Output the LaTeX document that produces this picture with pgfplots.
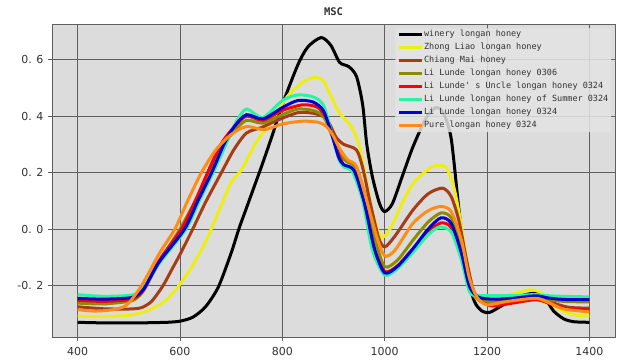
\documentclass[border=0pt]{standalone}
\usepackage{fontspec}
\setmainfont{DejaVu Sans}
\newfontfamily\legfont{DejaVu Sans Mono}
\usepackage{pgfplots}
\pgfplotsset{compat=1.18}

\definecolor{bgc}{RGB}{220,220,220}
\definecolor{gridc}{RGB}{95,95,95}
\definecolor{txtc}{RGB}{50,50,50}
\definecolor{cyellow}{RGB}{238,238,20}
\definecolor{cbrown}{RGB}{165,60,20}
\definecolor{colive}{RGB}{140,140,0}
\definecolor{cred}{RGB}{250,0,0}
\definecolor{cspring}{RGB}{40,245,160}
\definecolor{cblue}{RGB}{0,0,210}
\definecolor{corange}{RGB}{255,140,20}
\definecolor{legbg}{RGB}{228,228,228}

\begin{document}
\begin{tikzpicture}
\begin{axis}[
  scale only axis,
  width=563pt, height=313pt,
  xmin=350, xmax=1450, ymin=-0.382, ymax=0.726,
  axis background/.style={fill=bgc},
  grid=major,
  grid style={gridc, line width=0.8pt},
  axis line style={gridc, line width=0.7pt},
  tick style={gridc, line width=0.8pt},
  tick align=outside, major tick length=4pt,
  xtick pos=lower, ytick pos=left,
  xtick={400,600,800,1000,1200,1400},
  xticklabels={400,600,800,1000,1200,1400},
  ytick={-0.2,0,0.2,0.4,0.6},
  yticklabels={-0. 2,0. 0,0. 2,0. 4,0. 6},
  ticklabel style={font=\fontsize{11}{13}\selectfont, text=txtc},
  xticklabel style={yshift=-3pt},
  yticklabel style={xshift=-1pt},
  title={MSC},
  title style={font=\legfont\bfseries\fontsize{10.5}{12}\selectfont, text=txtc, at={(0.5,1)}, anchor=south, yshift=-1pt},
  every axis plot/.append style={line width=3pt, smooth, tension=0.45},
  legend image code/.code={\draw[#1] (0pt,0pt) -- (23pt,0pt);},
  legend style={at={(0.993,0.987)}, anchor=north east,
    font=\legfont\fontsize{8.5}{9.5}\selectfont, text=txtc,
    fill=legbg, fill opacity=0.85, text opacity=1, draw=black!12,
    rounded corners=2pt, inner sep=2pt, row sep=4.3pt,
    nodes={inner sep=0.5pt, text height=6pt, text depth=1.7pt},
    cells={anchor=west}},
]
\addplot[black] coordinates {(400,-0.330)(450,-0.332)(500,-0.332)(525,-0.332)(550,-0.331)(575,-0.330)(600,-0.326)(625,-0.312)(650,-0.275)(675,-0.205)(700,-0.085)(715,0.000)(730,0.075)(745,0.150)(760,0.225)(780,0.330)(800,0.440)(830,0.580)(850,0.645)(876,0.678)(895,0.650)(912,0.590)(930,0.575)(945,0.540)(957,0.440)(965,0.300)(976,0.185)(990,0.090)(1000,0.062)(1015,0.090)(1035,0.190)(1055,0.290)(1080,0.390)(1100,0.430)(1115,0.410)(1130,0.320)(1145,0.070)(1160,-0.150)(1175,-0.255)(1190,-0.290)(1205,-0.295)(1230,-0.270)(1260,-0.240)(1295,-0.227)(1315,-0.250)(1330,-0.290)(1350,-0.318)(1370,-0.328)(1400,-0.330)};
\addplot[cyellow] coordinates {(400,-0.308)(450,-0.310)(500,-0.305)(525,-0.296)(550,-0.278)(575,-0.248)(600,-0.195)(625,-0.128)(650,-0.045)(675,0.060)(700,0.165)(720,0.210)(750,0.310)(780,0.385)(810,0.470)(840,0.520)(863,0.537)(880,0.525)(895,0.470)(912,0.410)(932,0.370)(948,0.310)(960,0.210)(975,0.070)(990,-0.020)(1000,-0.025)(1015,0.015)(1035,0.095)(1055,0.160)(1080,0.205)(1100,0.225)(1120,0.218)(1135,0.150)(1150,0.010)(1163,-0.150)(1175,-0.235)(1190,-0.255)(1210,-0.250)(1245,-0.232)(1283,-0.215)(1305,-0.225)(1325,-0.262)(1350,-0.292)(1375,-0.305)(1400,-0.308)};
\addplot[cbrown] coordinates {(400,-0.275)(450,-0.282)(500,-0.283)(525,-0.278)(545,-0.255)(567,-0.200)(585,-0.140)(600,-0.090)(625,0.000)(650,0.095)(681,0.200)(705,0.280)(730,0.340)(760,0.360)(790,0.385)(830,0.412)(860,0.410)(880,0.398)(893,0.370)(905,0.325)(920,0.300)(945,0.280)(958,0.210)(972,0.090)(988,-0.030)(1000,-0.063)(1020,-0.025)(1055,0.067)(1085,0.125)(1113,0.145)(1130,0.115)(1145,0.030)(1160,-0.110)(1175,-0.225)(1195,-0.262)(1230,-0.252)(1280,-0.240)(1305,-0.243)(1330,-0.262)(1360,-0.277)(1400,-0.280)};
\addplot[colive] coordinates {(400,-0.262)(450,-0.265)(500,-0.256)(515,-0.245)(530,-0.215)(560,-0.115)(600,0.000)(630,0.100)(658,0.200)(683,0.290)(705,0.345)(730,0.385)(762,0.375)(800,0.405)(830,0.425)(860,0.420)(880,0.400)(895,0.340)(910,0.270)(925,0.240)(945,0.215)(965,0.100)(982,-0.040)(1000,-0.133)(1025,-0.110)(1055,-0.040)(1085,0.025)(1110,0.057)(1130,0.040)(1150,-0.060)(1165,-0.180)(1182,-0.243)(1210,-0.258)(1250,-0.254)(1295,-0.245)(1320,-0.250)(1350,-0.256)(1400,-0.258)};
\addplot[cred] coordinates {(400,-0.252)(450,-0.256)(500,-0.250)(515,-0.240)(530,-0.212)(560,-0.110)(603,0.000)(630,0.100)(654,0.200)(680,0.300)(705,0.360)(730,0.400)(762,0.385)(800,0.420)(840,0.440)(870,0.430)(890,0.380)(905,0.290)(920,0.225)(940,0.205)(960,0.090)(980,-0.070)(1000,-0.150)(1025,-0.130)(1055,-0.070)(1085,-0.010)(1110,0.022)(1130,0.005)(1150,-0.090)(1165,-0.200)(1185,-0.252)(1210,-0.272)(1250,-0.262)(1295,-0.250)(1320,-0.262)(1350,-0.280)(1400,-0.287)};
\addplot[cspring] coordinates {(400,-0.232)(450,-0.238)(500,-0.235)(515,-0.228)(530,-0.205)(560,-0.120)(612,0.000)(638,0.100)(665,0.200)(690,0.300)(710,0.380)(730,0.425)(762,0.395)(800,0.455)(830,0.475)(860,0.468)(880,0.440)(895,0.350)(910,0.250)(920,0.220)(937,0.203)(957,0.100)(976,-0.075)(1000,-0.163)(1025,-0.140)(1054,-0.085)(1085,-0.020)(1107,0.007)(1130,-0.010)(1150,-0.110)(1166,-0.223)(1185,-0.235)(1250,-0.235)(1295,-0.232)(1330,-0.237)(1400,-0.240)};
\addplot[cblue] coordinates {(400,-0.245)(450,-0.248)(500,-0.244)(515,-0.235)(530,-0.210)(560,-0.115)(609,0.000)(635,0.100)(662,0.200)(686,0.300)(707,0.365)(730,0.405)(762,0.390)(800,0.430)(830,0.455)(860,0.450)(880,0.420)(895,0.345)(910,0.255)(920,0.228)(940,0.208)(960,0.095)(980,-0.070)(1000,-0.155)(1025,-0.132)(1055,-0.070)(1085,0.000)(1110,0.040)(1130,0.020)(1150,-0.085)(1165,-0.200)(1182,-0.240)(1210,-0.248)(1250,-0.245)(1295,-0.236)(1320,-0.244)(1350,-0.249)(1400,-0.250)};
\addplot[corange] coordinates {(400,-0.285)(430,-0.290)(462,-0.287)(495,-0.270)(525,-0.200)(560,-0.085)(590,0.000)(615,0.100)(642,0.200)(670,0.280)(700,0.335)(730,0.363)(765,0.352)(800,0.372)(840,0.382)(870,0.378)(885,0.365)(898,0.335)(912,0.285)(928,0.245)(945,0.222)(965,0.100)(985,-0.030)(1000,-0.095)(1020,-0.075)(1055,0.020)(1085,0.065)(1110,0.080)(1130,0.062)(1150,-0.040)(1165,-0.170)(1180,-0.240)(1200,-0.268)(1240,-0.256)(1295,-0.245)(1320,-0.260)(1350,-0.283)(1400,-0.293)};
\legend{winery longan honey, Zhong Liao longan honey, Chiang Mai honey, Li Lunde longan honey 0306, Li Lunde' s Uncle longan honey 0324, Li Lunde longan honey of Summer 0324, Li Lunde longan honey 0324, Pure longan honey 0324}
\end{axis}
\pgfresetboundingbox
\path (-52pt,-25pt) rectangle (589pt,337pt);
\end{tikzpicture}
\end{document}
